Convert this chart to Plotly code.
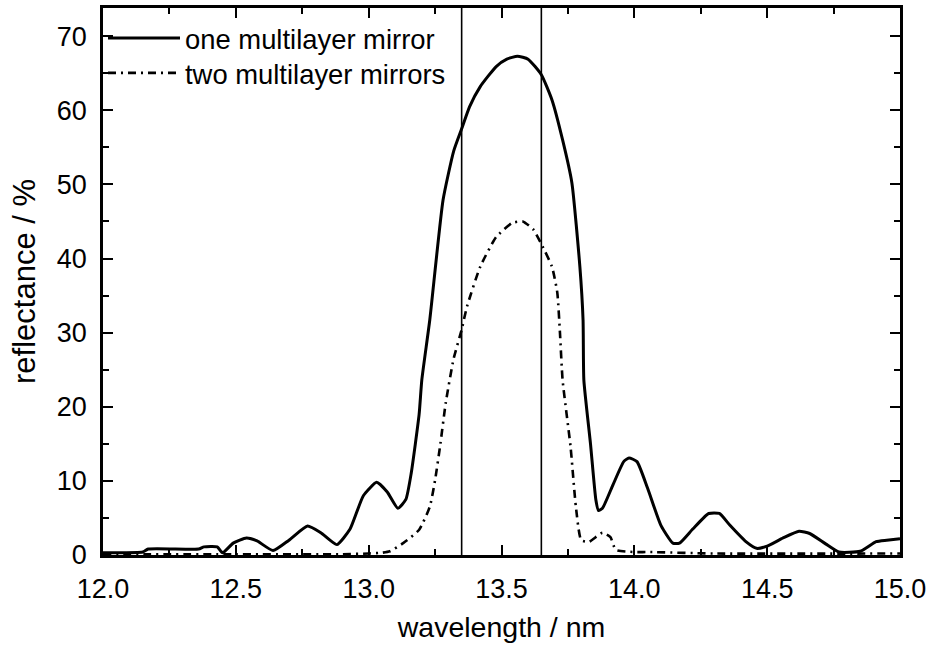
import plotly.graph_objects as go

# Reflectance spectra (wavelength in nm, reflectance in %)
one_wl = [12.00, 12.15, 12.17, 12.36, 12.38, 12.43, 12.45, 12.49, 12.54, 12.58,
          12.64, 12.70, 12.77, 12.82, 12.88, 12.93, 12.98, 13.03, 13.07, 13.11,
          13.14, 13.16, 13.19, 13.20, 13.23, 13.28, 13.32, 13.35, 13.38, 13.42,
          13.48, 13.52, 13.56, 13.60, 13.65, 13.69, 13.73, 13.765, 13.795, 13.807,
          13.81, 13.835, 13.855, 13.865, 13.88, 13.92, 13.96, 13.98, 14.01, 14.05,
          14.10, 14.145, 14.17, 14.22, 14.28, 14.32, 14.36, 14.42, 14.46, 14.50,
          14.56, 14.62, 14.66, 14.72, 14.77, 14.85, 14.91, 14.95, 15.00]
one_refl = [0.3, 0.4, 0.8, 0.8, 1.1, 1.1, 0.3, 1.6, 2.3, 1.9,
            0.6, 2.0, 3.9, 3.0, 1.4, 3.5, 8.0, 9.8, 8.5, 6.3,
            7.5, 11.0, 19.0, 23.6, 31.7, 47.9, 54.5, 57.5, 60.5, 63.2,
            65.9, 66.9, 67.3, 66.9, 64.8, 61.4, 56.0, 50.2, 38.9, 31.7,
            23.6, 15.0, 7.5, 6.0, 6.3, 9.5, 12.6, 13.1, 12.6, 9.0,
            4.0, 1.6, 1.6, 3.5, 5.6, 5.6, 4.0, 1.8, 0.9, 1.2,
            2.3, 3.2, 2.9, 1.5, 0.4, 0.5, 1.8, 2.0, 2.2]

two_wl = [12.00, 12.50, 12.90, 13.00, 13.05, 13.08, 13.13, 13.19, 13.23, 13.25,
          13.27, 13.29, 13.32, 13.35, 13.37, 13.42, 13.48, 13.54, 13.58, 13.62,
          13.655, 13.69, 13.71, 13.72, 13.73, 13.76, 13.78, 13.80, 13.83, 13.88,
          13.91, 13.93, 14.00, 14.06, 14.30, 15.00]
two_refl = [0.1, 0.1, 0.1, 0.2, 0.3, 0.5, 1.6, 3.4, 6.5, 10.1,
            15.0, 20.5, 26.5, 30.4, 33.5, 38.9, 42.9, 44.8, 45.0, 43.9,
            41.6, 38.9, 35.4, 30.0, 23.6, 14.6, 6.5, 2.0, 1.8, 3.0,
            2.4, 0.7, 0.4, 0.4, 0.2, 0.2]

# Edges of the marked wavelength band
band_edges = [13.35, 13.65]

x_ticks = [12.0, 12.5, 13.0, 13.5, 14.0, 14.5, 15.0]
y_ticks = [0, 10, 20, 30, 40, 50, 60, 70]

FONT = "Liberation Sans, Arial, sans-serif"

fig = go.Figure()
fig.add_trace(go.Scatter(
    x=one_wl, y=one_refl, mode="lines", name="one multilayer mirror",
    legend="legend",
    line=dict(color="black", width=3, shape="spline", smoothing=0.5),
))
fig.add_trace(go.Scatter(
    x=two_wl, y=two_refl, mode="lines", name="two multilayer mirrors",
    legend="legend2",
    line=dict(color="black", width=2.6, dash="8px,5px,2px,5px",
              shape="spline", smoothing=0.5),
))

for edge in band_edges:
    fig.add_shape(type="line", xref="x", yref="paper", x0=edge, x1=edge,
                  y0=0, y1=1, line=dict(color="black", width=1.6))

axis_common = dict(
    showline=True, linecolor="black", linewidth=2.5, mirror="ticks",
    ticks="inside", ticklen=10, tickwidth=2, tickcolor="black",
    showgrid=False, zeroline=False,
    tickfont=dict(family=FONT, size=27, color="black"),
)

fig.update_xaxes(
    **axis_common,
    range=[12.0, 15.0], tickvals=x_ticks,
    ticktext=[f"{v:.1f}" for v in x_ticks],
    minor=dict(dtick=0.25, tick0=12.0, ticks="inside", ticklen=6,
               tickwidth=2, tickcolor="black"),
    ticklabelstandoff=8,
    title=dict(text="wavelength / nm", font=dict(family=FONT, size=28.5, color="black"),
               standoff=14),
)
fig.update_yaxes(
    **axis_common,
    range=[0, 73.8], tickvals=y_ticks,
    minor=dict(dtick=5, tick0=0, ticks="inside", ticklen=6,
               tickwidth=2, tickcolor="black"),
    ticklabelstandoff=8,
    title=dict(text="reflectance / %", font=dict(family=FONT, size=31, color="black"),
               standoff=12),
)

legend_common = dict(
    x=0.0, xanchor="left", yanchor="middle",
    bgcolor="rgba(0,0,0,0)", borderwidth=0,
    font=dict(family=FONT, size=27.4, color="black"),
    itemwidth=72,
)

fig.update_layout(
    width=933, height=650,
    margin=dict(l=103, r=33, t=8, b=95, autoexpand=False),
    plot_bgcolor="white", paper_bgcolor="white",
    showlegend=True,
    legend=dict(**legend_common, y=0.945),
    legend2=dict(**legend_common, y=0.881),
)

fig.write_html("out.html")
